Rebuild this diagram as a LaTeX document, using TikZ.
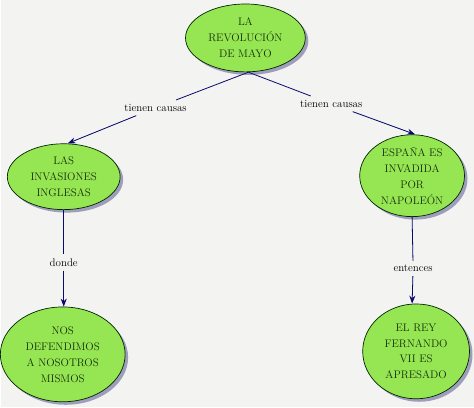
\documentclass[tikz,border=0pt]{standalone}
\usepackage{tikz}
\usetikzlibrary{shapes.geometric,shadows,arrows.meta}
\definecolor{bgc}{RGB}{243,243,241}
\definecolor{conc}{RGB}{150,229,82}
\definecolor{txt}{RGB}{22,48,12}
\definecolor{link}{RGB}{10,10,110}

\tikzset{
  concepto/.style={ellipse, fill=conc, draw=black!85!green, line width=0.7pt, inner sep=0pt,
    align=center, text=txt, font=\rmfamily\fontsize{11}{16}\selectfont,
    drop shadow={shadow xshift=3pt, shadow yshift=-3pt, fill=gray!80!blue, opacity=0.6}},
  enlace/.style={inner sep=4pt, text=black, font=\rmfamily\fontsize{11}{13}\selectfont},
  linea/.style={draw=link, line width=0.8pt},
  flecha/.style={draw=link, line width=0.8pt, -{Stealth[length=8pt,width=6pt]}, fill=link}
}

\begin{document}
\begin{tikzpicture}[x=1pt, y=-1pt]
\fill[bgc] (0,0) rectangle (474,408);

\node[concepto, minimum width=120pt, minimum height=68pt] (mayo) at (245,38) {LA\\REVOLUCIÓN\\DE MAYO};
\node[concepto, minimum width=113pt, minimum height=66pt] (invasiones) at (63,177) {LAS\\INVASIONES\\INGLESAS};
\node[concepto, minimum width=105pt, minimum height=82pt] (espana) at (412,176) {ESPAÑA ES\\INVADIDA\\POR\\NAPOLEÓN};
\node[concepto, minimum width=125pt, minimum height=95pt] (nosotros) at (62,355) {NOS\\DEFENDIMOS\\A NOSOTROS\\MISMOS};
\node[concepto, minimum width=107pt, minimum height=95pt] (rey) at (416,352) {EL REY\\FERNANDO\\VII ES\\APRESADO};

\node[enlace] (causaA) at (155,108) {tienen causas};
\node[enlace] (causaB) at (331,104) {tienen causas};
\node[enlace] (donde) at (63,263) {donde};
\node[enlace] (entences) at (413,269) {entences};

\draw[linea] ([xshift=3pt]mayo.south) -- (causaA);
\draw[flecha] (causaA) -- ([xshift=4pt]invasiones.north);
\draw[linea] ([xshift=3pt]mayo.south) -- (causaB);
\draw[flecha] (causaB) -- ([xshift=3pt]espana.north);
\draw[linea] (invasiones.south) -- (donde);
\draw[flecha] (donde) -- (invasiones.south |- nosotros.north);
\draw[linea] (espana.south) -- (entences);
\draw[flecha] (entences) -- (espana.south |- rey.north);
\end{tikzpicture}
\end{document}
